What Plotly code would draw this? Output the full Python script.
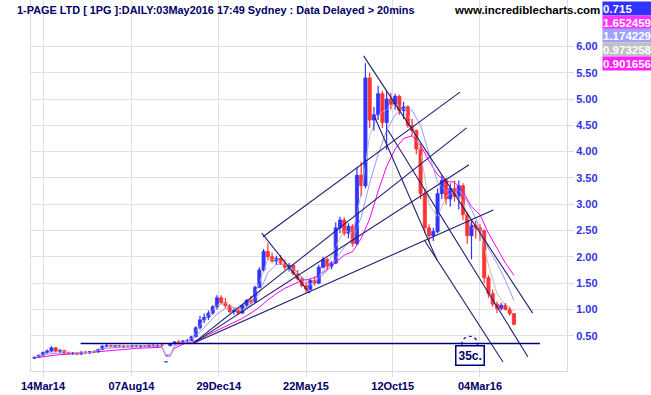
import pandas as pd
import plotly.graph_objects as go

# ---------------- data (weekly sampling) ----------------
week_start = "2014-02-28"
n_weeks = 114
opens = [0.07,0.09,0.13,0.18,0.21,0.27,0.20,0.22,0.17,0.16,0.17,0.15,0.19,0.17,0.20,0.19,0.24,0.30,0.31,0.29,
         0.31,0.29,0.30,0.29,0.31,0.29,0.31,0.30,0.32,0.30,0.32,0.00,0.31,0.35,0.38,0.36,0.40,0.41,0.48,0.65,
         0.80,0.85,0.93,1.05,1.22,1.13,1.07,0.96,0.98,0.93,1.08,1.17,1.14,1.42,1.75,2.10,2.00,1.92,1.97,1.88,
         1.80,1.84,1.68,1.58,1.45,1.38,1.55,1.50,1.80,1.95,1.82,1.88,2.55,2.70,2.45,2.58,2.25,3.55,3.35,5.40,
         4.60,4.70,5.10,4.55,5.00,4.90,5.05,4.78,4.85,4.50,4.40,4.05,3.20,2.55,2.40,2.48,3.20,3.45,3.10,3.30,
         3.15,3.35,2.80,2.40,2.60,2.55,2.50,1.60,1.30,1.10,1.02,1.08,1.00,0.92]
highs = [0.10,0.14,0.20,0.24,0.30,0.28,0.25,0.23,0.19,0.19,0.18,0.20,0.21,0.21,0.22,0.25,0.32,0.34,0.33,0.32,
         0.33,0.32,0.32,0.32,0.33,0.32,0.32,0.33,0.34,0.33,0.34,0.005,0.36,0.40,0.42,0.42,0.44,0.50,0.68,0.88,
         0.92,0.98,1.08,1.27,1.27,1.22,1.10,1.02,1.00,1.10,1.20,1.25,1.45,1.80,2.15,2.26,2.08,2.02,2.03,1.95,
         1.88,1.86,1.75,1.62,1.52,1.58,1.62,1.85,2.00,1.98,1.92,2.65,2.76,2.75,2.64,2.62,3.70,3.80,5.68,5.50,
         4.85,5.25,5.15,5.15,5.12,5.10,5.08,4.95,4.88,4.62,4.42,4.15,3.30,2.62,2.55,3.30,3.55,3.50,3.40,3.45,
         3.45,3.40,2.85,2.70,2.68,2.62,2.52,1.65,1.38,1.15,1.12,1.12,1.05,0.93]
lows = [0.06,0.08,0.12,0.16,0.19,0.18,0.17,0.15,0.14,0.14,0.13,0.14,0.16,0.16,0.17,0.18,0.23,0.28,0.28,0.27,
        0.28,0.27,0.28,0.28,0.28,0.27,0.28,0.28,0.29,0.29,0.30,0.00,0.30,0.33,0.35,0.35,0.37,0.40,0.47,0.62,
        0.74,0.80,0.90,1.00,1.10,1.03,0.93,0.90,0.90,0.92,1.05,1.10,1.12,1.40,1.72,1.95,1.88,1.85,1.85,1.75,
        1.72,1.65,1.55,1.42,1.31,1.36,1.45,1.48,1.78,1.75,1.76,1.86,2.45,2.40,2.35,2.19,2.22,3.15,3.30,4.45,
        4.40,4.60,4.45,4.03,4.80,4.80,4.70,4.62,4.45,4.30,3.95,3.10,2.45,2.28,2.30,2.45,3.10,3.00,2.95,3.05,
        2.90,2.70,2.25,1.95,2.35,2.30,1.50,1.22,1.05,0.93,0.98,0.98,0.88,0.70]
closes = [0.09,0.13,0.18,0.21,0.27,0.20,0.22,0.17,0.16,0.17,0.15,0.19,0.17,0.20,0.19,0.24,0.30,0.31,0.29,0.31,
          0.29,0.30,0.29,0.31,0.29,0.31,0.30,0.32,0.30,0.32,0.31,0.005,0.35,0.38,0.36,0.40,0.41,0.48,0.65,0.80,
          0.85,0.93,1.05,1.22,1.13,1.07,0.96,0.98,0.93,1.08,1.17,1.14,1.42,1.75,2.10,2.00,1.92,1.97,1.88,1.80,
          1.84,1.68,1.58,1.45,1.38,1.55,1.50,1.80,1.95,1.82,1.88,2.55,2.70,2.45,2.58,2.25,3.55,3.35,5.40,4.60,
          4.70,5.10,4.55,5.00,4.90,5.05,4.78,4.85,4.50,4.40,4.05,3.20,2.55,2.40,2.48,3.20,3.45,3.10,3.30,3.15,
          3.35,2.80,2.40,2.60,2.55,2.50,1.60,1.30,1.10,1.02,1.08,1.00,0.92,0.715]

# moving-average lines, read at these week indices
ma_idx = [0,3,6,10,13,17,20,24,27,30,31,32,33,35,37,39,41,43,45,47,49,51,53,55,57,59,61,63,65,67,69,71,73,75,
          77,79,81,83,85,87,89,91,93,95,97,99,101,103,105,107,109,111,113]
ma_slow = [0.08,0.11,0.14,0.16,0.18,0.21,0.24,0.26,0.27,0.28,0.12,0.14,0.26,0.34,0.38,0.43,0.52,0.60,0.68,0.76,
           0.83,0.93,1.04,1.18,1.30,1.40,1.48,1.55,1.58,1.64,1.76,1.90,2.03,2.10,2.35,2.72,3.25,3.72,4.05,4.25,
           4.30,4.12,3.82,3.56,3.43,3.42,3.24,2.95,2.80,2.45,2.15,1.88,1.65]
ma_mid = [0.09,0.15,0.17,0.17,0.18,0.26,0.28,0.29,0.29,0.30,0.10,0.10,0.30,0.37,0.43,0.57,0.75,0.91,1.02,1.04,
          1.00,1.08,1.32,1.70,1.86,1.85,1.78,1.62,1.48,1.58,1.74,1.95,2.18,2.35,2.75,3.40,3.95,4.40,4.70,4.82,
          4.78,4.50,3.95,3.42,3.25,3.30,3.20,2.90,2.55,2.15,1.88,1.55,1.17]
ma_fast = [0.09,0.17,0.21,0.17,0.18,0.29,0.30,0.30,0.30,0.31,0.14,0.14,0.33,0.38,0.45,0.70,0.88,1.08,1.12,1.03,
           0.98,1.12,1.50,1.95,1.95,1.86,1.75,1.55,1.45,1.62,1.85,2.20,2.50,2.45,3.20,4.30,4.70,4.80,4.90,4.85,
           4.55,4.00,3.00,2.75,3.15,3.25,3.05,2.55,2.50,1.85,1.30,1.08,0.97]

# hand-drawn trend lines (start date, start price, end date, end price)
trend_x0 = ["2015-03-12","2014-11-16","2014-11-16","2014-11-16","2015-03-10","2015-08-25","2015-10-04","2015-09-13","2015-12-03"]
trend_y0 = [2.38, 0.35, 0.35, 0.35, 2.45, 5.82, 4.41, 4.64, 2.32]
trend_x1 = ["2016-01-31","2016-02-11","2016-02-15","2016-03-26","2015-05-28","2016-05-30","2016-05-22","2015-12-24","2016-04-11"]
trend_y1 = [5.13, 4.45, 3.75, 2.89, 1.31, 0.93, 0.10, 1.94, 0.00]
support_x = ["2014-05-15", "2016-06-11"]
support_level = 0.35
support_label = "35c."

x_tick_dates = ["2014-03-14","2014-08-07","2014-12-29","2015-05-22","2015-10-12","2016-03-04"]
x_tick_text = ["14Mar14","07Aug14","29Dec14","22May15","12Oct15","04Mar16"]
y_tick_vals = [0.5,1.0,1.5,2.0,2.5,3.0,3.5,4.0,4.5,5.0,5.5,6.0]

legend_vals = ["0.715","1.652459","1.174229","0.973258","0.901656"]
legend_cols = ["#3333ff","#ff33ff","#a0a0ff","#c0c0c0","#ff22ff"]

title_text = "1-PAGE LTD [ 1PG ]:DAILY:03May2016 17:49 Sydney : Data Delayed > 20mins"
site_text = "www.incrediblecharts.com"

UP, DOWN = "#3333ff", "#ff3333"

# ---------------- figure ----------------
dates = list(pd.date_range(week_start, periods=n_weeks, freq="7D"))
ma_dates = [dates[i] for i in ma_idx]
is_up = [c >= o for o, c in zip(opens, closes)]
colors = [UP if u else DOWN for u in is_up]

fig = go.Figure()
for vals, col in [(ma_slow, "#ff00ff"), (ma_mid, "#9999ff"), (ma_fast, "#c0c0c0")]:
    fig.add_trace(go.Scatter(x=ma_dates, y=vals, mode="lines",
                             line=dict(color=col, width=1), hoverinfo="skip", showlegend=False))

# wicks
for want, col in [(True, UP), (False, DOWN)]:
    wx, wy = [], []
    for d, h, l, u in zip(dates, highs, lows, is_up):
        if u == want:
            wx += [d, d, None]
            wy += [l, h, None]
    fig.add_trace(go.Scatter(x=wx, y=wy, mode="lines", line=dict(color=col, width=1.2),
                             hoverinfo="skip", showlegend=False))
# bodies
fig.add_trace(go.Bar(x=dates, y=[c - o for o, c in zip(opens, closes)], base=opens,
                     width=5.2 * 86400000, marker=dict(color=colors, line=dict(color=colors, width=0.8)),
                     hoverinfo="skip", showlegend=False))

for a, b, c, d in zip(trend_x0, trend_y0, trend_x1, trend_y1):
    fig.add_trace(go.Scatter(x=[a, c], y=[b, d], mode="lines",
                             line=dict(color="#202070", width=1.1), hoverinfo="skip", showlegend=False))
fig.add_trace(go.Scatter(x=support_x, y=[support_level, support_level], mode="lines",
                         line=dict(color="#000080", width=1.5), hoverinfo="skip", showlegend=False))

# dashed marker circle + label box
fig.add_shape(type="circle", xref="x", yref="y", x0="2016-02-03", x1="2016-02-29",
              y0=support_level - 0.16, y1=support_level + 0.14,
              line=dict(color="#000080", width=1.2, dash="dot"))
fig.add_annotation(x="2016-02-17", y=support_level - 0.23, xref="x", yref="y", text="<b>" + support_label + "</b>",
                   showarrow=False, font=dict(family="Liberation Sans", size=12, color="#000066"),
                   bgcolor="white", bordercolor="#000080", borderwidth=1.5, borderpad=2)

fig.add_annotation(x=-0.0299, y=0.973, xref="paper", yref="paper", xanchor="left", yanchor="middle",
                   align="left", text="<b>" + title_text + "</b>", showarrow=False,
                   font=dict(family="Liberation Sans", size=10.9, color="#000066"))
fig.add_annotation(x=0.7855, y=0.973, xref="paper", yref="paper", xanchor="left", yanchor="middle",
                   align="left", text="<b>" + site_text + "</b>", showarrow=False,
                   font=dict(family="Liberation Sans", size=11.5, color="#000000"))

for k, (v, c) in enumerate(zip(legend_vals, legend_cols)):
    yc = 8.5 + 13.7 * k
    fig.add_annotation(x=1.0653, y=(371 - yc) / 371, xref="paper", yref="paper",
                       xanchor="left", yanchor="middle", text="<b>" + v + "</b>", showarrow=False,
                       width=49, height=13, align="left", bgcolor=c, borderpad=0,
                       font=dict(family="Liberation Sans", size=11.5, color="white"))

fig.update_layout(
    width=651, height=395, margin=dict(l=31, r=84, t=0, b=24),
    paper_bgcolor="white", plot_bgcolor="white", showlegend=False, barmode="overlay",
    xaxis=dict(type="date", range=["2014-02-22 05:00", "2016-07-25 14:00"],
               tickvals=x_tick_dates, ticktext=x_tick_text, showgrid=True, gridcolor="#e0e0e0",
               showline=True, linecolor="#dcdcdc", mirror=True, ticks="outside", ticklen=5,
               tickcolor="#dcdcdc", zeroline=False,
               tickfont=dict(family="Liberation Sans", size=11, color="#000066", weight="bold")),
    yaxis=dict(side="right", range=[-0.171, 6.882], tickvals=y_tick_vals, tickformat=".2f",
               showgrid=True, gridcolor="#e0e0e0", showline=True, linecolor="#dcdcdc", mirror=True,
               ticks="outside", ticklen=6, tickcolor="#dcdcdc", zeroline=False,
               tickfont=dict(family="Liberation Sans", size=11, color="#3333dd", weight="bold")),
)

fig.write_html("out.html", config={"displayModeBar": False},
               post_script="document.body.style.margin='0px';document.body.style.overflow='hidden';")
